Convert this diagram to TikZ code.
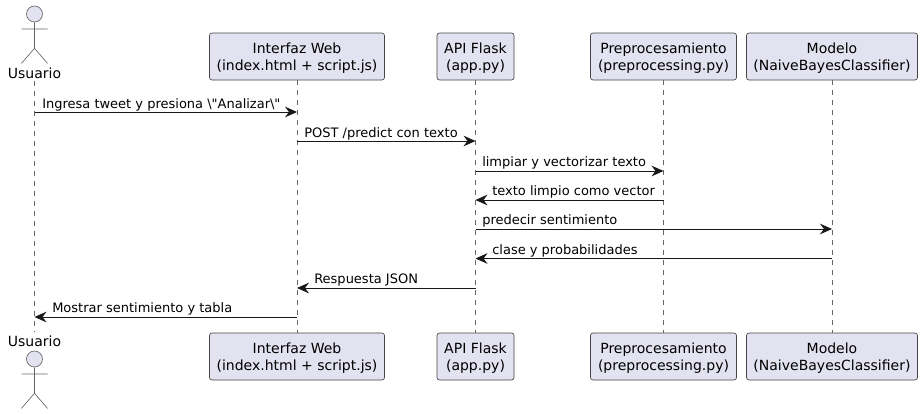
\documentclass[tikz,border=0pt]{standalone}
\usepackage{fontspec}
\setmainfont{DejaVu Sans}
\newfontfamily\qfont{DejaVu Sans}
\usetikzlibrary{arrows.meta}
\definecolor{partfill}{HTML}{E2E2F0}
\definecolor{partline}{HTML}{444444}
\definecolor{lifecol}{HTML}{666666}
\definecolor{msgcol}{HTML}{181818}
\newcommand{\tstrut}{\rule{0pt}{10.8pt}}
\tikzset{
  partbox/.style={draw=partline,fill=partfill,line width=0.5pt,rounded corners=1.9pt,minimum height=35.25pt,inner sep=0pt,align=center,font=\fontsize{10.5}{12.6}\selectfont,anchor=center},
  lifeline/.style={draw=lifecol,line width=0.35pt,dash pattern=on 3.75pt off 3.75pt},
  msg/.style={draw=msgcol,line width=0.75pt,-{Stealth[length=9pt,width=8pt,inset=3pt]}},
  msgtext/.style={font=\fontsize{9.75}{11.7}\selectfont,anchor=base west,inner sep=0pt,text=black},
  actorline/.style={draw=lifecol,line width=0.5pt},
  actorhead/.style={draw=lifecol,fill=partfill,line width=0.5pt},
  actorname/.style={font=\fontsize{10.5}{12.6}\selectfont,anchor=base,inner sep=0pt,text=black}
}
\begin{document}
\begin{tikzpicture}[x=0.75pt,y=-0.75pt]
\useasboundingbox (0,0) rectangle (922,414);
% actors
\node[actorname] (utop) at (34.5,78) {Usuario};
\node[actorname] (ubot) at (34.5,346) {Usuario};
\foreach \n/\y in {atop/14,abot/359}{
  \node[actorhead,circle,minimum size=12pt,inner sep=0pt] (\n) at (34.5,\y) {};
  \draw[actorline] (\n.south) -- ++(0,26) -- ++(-13,15) ++(13,-15) -- ++(13,15)
    (21.5,\y+15) -- (47.5,\y+15);
}
% participants
\node[partbox,minimum width=131.25pt] (web) at (297,56.5) {\tstrut Interfaz Web\\(index.html + script.js)};
\node[partbox,minimum width=57.75pt] (api) at (475.5,56.5) {\tstrut API Flask\\(app.py)};
\node[partbox,minimum width=109.5pt] (pre) at (663.5,56.5) {\tstrut Preprocesamiento\\(preprocessing.py)};
\node[partbox,minimum width=128.25pt] (mod) at (832,56.5) {\tstrut Modelo\\(NaiveBayesClassifier)};
\node[partbox,minimum width=131.25pt] (webb) at (297,356.5) {\tstrut Interfaz Web\\(index.html + script.js)};
\node[partbox,minimum width=57.75pt] (apib) at (475.5,356.5) {\tstrut API Flask\\(app.py)};
\node[partbox,minimum width=109.5pt] (preb) at (663.5,356.5) {\tstrut Preprocesamiento\\(preprocessing.py)};
\node[partbox,minimum width=128.25pt] (modb) at (832,356.5) {\tstrut Modelo\\(NaiveBayesClassifier)};
% lifelines
\draw[lifeline] (utop.south) ++(0,3) coordinate (ut) -- (ubot.north |- 0,332) coordinate (ub);
\draw[lifeline] (web.south) -- (webb.north);
\draw[lifeline] (api.south) -- (apib.north);
\draw[lifeline] (pre.south) -- (preb.north);
\draw[lifeline] (mod.south) -- (modb.north);
% messages
\foreach \a/\b/\y [count=\i] in {utop/web/112,web/api/141,api/pre/171,pre/api/200,api/mod/229,mod/api/258.5,api/web/288,webb/ubot/317}{
  \coordinate (s\i) at (\a |- 0,\y);
  \coordinate (e\i) at (\b |- 0,\y);
  \draw[msg] (s\i) -- (e\i);
}
\node[msgtext] (t1) at (42,108) {Ingresa tweet y presiona {\qfont\symbol{92}\symbol{34}Analizar\symbol{92}\symbol{34}}};
\node[msgtext] (t2) at (304,137) {POST /predict con texto};
\node[msgtext] (t3) at (482,166) {limpiar y vectorizar texto};
\node[msgtext] (t4) at (492,195) {texto limpio como vector};
\node[msgtext] (t5) at (482,224) {predecir sentimiento};
\node[msgtext] (t6) at (492,254) {clase y probabilidades};
\node[msgtext] (t7) at (314,283) {Respuesta JSON};
\node[msgtext] (t8) at (52,312) {Mostrar sentimiento y tabla};
\end{tikzpicture}
\end{document}
